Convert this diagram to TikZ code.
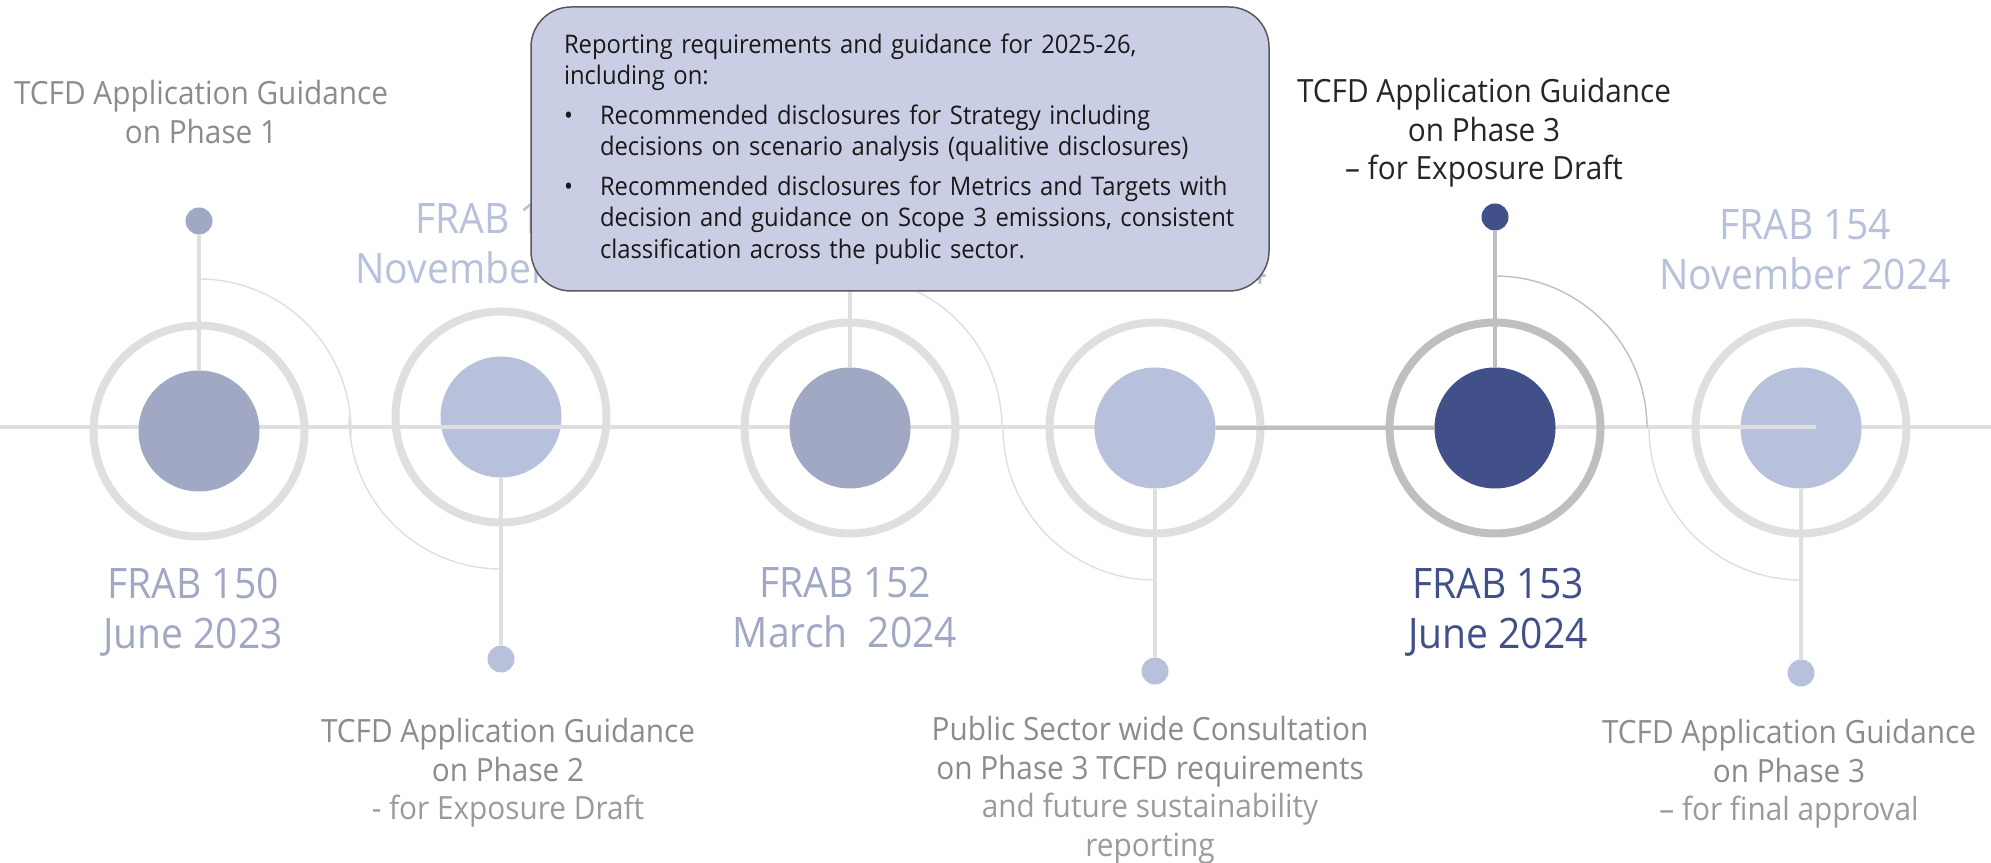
\documentclass[tikz,border=0pt]{standalone}
\usepackage{fontspec}
\setmainfont{Open Sans}[FakeStretch=0.93]
\usetikzlibrary{positioning}

\definecolor{frabmid}{HTML}{A0A8C4}
\definecolor{frablight}{HTML}{B8C1DC}
\definecolor{frabdark}{HTML}{415088}
\definecolor{linegray}{HTML}{DFDFDF}
\definecolor{linedark}{HTML}{BFBFBF}
\definecolor{notegray}{HTML}{8C8C8C}
\definecolor{notelight}{HTML}{9B9B9B}
\definecolor{notedark}{HTML}{262626}
\definecolor{boxfill}{HTML}{CACEE5}
\definecolor{boxline}{HTML}{595959}

\begin{document}
\begin{tikzpicture}[x=1pt,y=1pt,on grid,
   hub/.style={circle,inner sep=0pt,minimum size=121pt},
   ring/.style={circle,draw=linegray,line width=8pt,inner sep=0pt,minimum size=211pt},
   pin/.style={circle,inner sep=0pt,minimum size=27pt},
   stem/.style={draw=linegray,line width=4pt},
   swirl/.style={draw=linegray,line width=1.4pt},
   date/.style={align=center,inner sep=0pt,font=\fontsize{42}{50}\selectfont},
   note/.style={align=center,inner sep=0pt,text=notegray,font=\fontsize{32}{38.5}\selectfont},
   callout/.style={draw=boxline,line width=1.5pt,fill=boxfill,rounded corners=40pt,
      minimum width=738pt,minimum height=284pt,inner xsep=33pt,text width=672pt,
      align=left,text=black!90,font=\fontsize{25.6}{31.5}\selectfont}]
   \path[fill=white] (0,0) rectangle (1991,862);
   \useasboundingbox (0,0) rectangle (1991,862);
   \coordinate (w) at (0,434.5);
   \coordinate (e) at (1991,434.5);
   \path[stem] (w) edge (e);

   \node[hub,fill=frabmid] (c1) at (199,431) {};
   \node[hub,fill=frablight] (c2) [right=302pt of c1,yshift=14pt] {};
   \node[hub,fill=frabmid] (c3) [right=349pt of c2,yshift=-11pt] {};
   \node[hub,fill=frablight] (c4) [right=305pt of c3] {};
   \node[hub,fill=frabdark] (c5) [right=340pt of c4] {};
   \node[hub,fill=frablight] (c6) [right=306pt of c5] {};
   \node[ring] (r1) at (c1) {};
   \node[ring] (r2) at (c2) {};
   \node[ring] (r3) at (c3) {};
   \node[ring] (r4) at (c4) {};
   \node[ring,draw=linedark] (r5) at (c5) {};
   \node[ring] (r6) at (c6) {};

   \node[pin,fill=frabmid] (d1) [above=210pt of c1] {};
   \node[pin,fill=frablight] (d2) [below=242pt of c2] {};
   \node[coordinate] (d3) [above=200pt of c3] {};
   \node[pin,fill=frablight] (d4) [below=243pt of c4] {};
   \node[pin,fill=frabdark] (d5) [above=211pt of c5] {};
   \node[pin,fill=frablight] (d6) [below=245pt of c6] {};
   \node[coordinate] (c6end) [right=15pt of c6] {};

   \path[swirl] ([yshift=152pt]c1.center) arc[start angle=90,end angle=-3,radius=152pt]
        ([xshift=-152pt]c2.center) arc[start angle=180,end angle=270,radius=152pt]
        ([yshift=152pt]c3.center) arc[start angle=90,end angle=0,radius=152pt]
        ([xshift=-152pt]c4.center) arc[start angle=180,end angle=270,radius=152pt]
        ([xshift=-152pt]c6.center) arc[start angle=180,end angle=270,radius=152pt];
   \path[swirl,draw=linedark] ([yshift=152pt]c5.center) arc[start angle=90,end angle=0,radius=152pt];

   \path[stem]
        (d1) edge (c1)
        (c2) edge (d2)
        (c3) edge (d3)
        (c4) edge (d4)
        (c6) edge (d6)
        (c2.west |- w) edge (c2.east |- w)
        (c6.west |- w) edge (c6end |- w);
   \path[stem,draw=linedark]
        (d5) edge (c5)
        (c4) edge (c5);

   \node[date,text=frabmid,anchor=north] (l1) at (193,294) {FRAB 150\\June 2023};
   \node[date,text=frablight,anchor=north] (l2) at (501,659) {FRAB 151\\November 2023};
   \node[date,text=frabmid,anchor=north] (l3) at (845,295) {FRAB 152\\March~~2024};
   \node[date,text=frablight,anchor=base east] (l4) at (1267,577) {2024};
   \node[date,text=frabdark,anchor=north] (l5) at (1498,294) {FRAB 153\\June 2024};
   \node[date,text=frablight,anchor=north] (l6) at (1805,653) {FRAB 154\\November 2024};

   \node[note,anchor=north] (n1) at (201,782) {TCFD Application Guidance\\on Phase 1};
   \node[note,anchor=north] (n2) at (508,144) {TCFD Application Guidance\\on Phase 2\\{\color{notelight}- for Exposure Draft}};
   \node[note,anchor=north] (n4) at (1150,146) {Public Sector wide Consultation\\on Phase 3 TCFD requirements\\{\color{notelight}and future sustainability}\\{\color{notelight}reporting}};
   \node[note,text=notedark,anchor=north] (n5) at (1484,784) {TCFD Application Guidance\\on Phase 3\\– for Exposure Draft};
   \node[note,anchor=north] (n6) at (1789,143) {TCFD Application Guidance\\on Phase 3\\{\color{notelight}– for final approval}};

   \node[callout] (box) at (900,713) {Reporting requirements and guidance for 2025-26,\\
      including on:\\[8pt]
      \makebox[36pt][l]{•}Recommended disclosures for Strategy including\\
      \hspace*{36pt}decisions on scenario analysis (qualitive disclosures)\\[8pt]
      \makebox[36pt][l]{•}Recommended disclosures for Metrics and Targets with\\
      \hspace*{36pt}decision and guidance on Scope 3 emissions, consistent\\
      \hspace*{36pt}classification across the public sector.};
\end{tikzpicture}
\end{document}
